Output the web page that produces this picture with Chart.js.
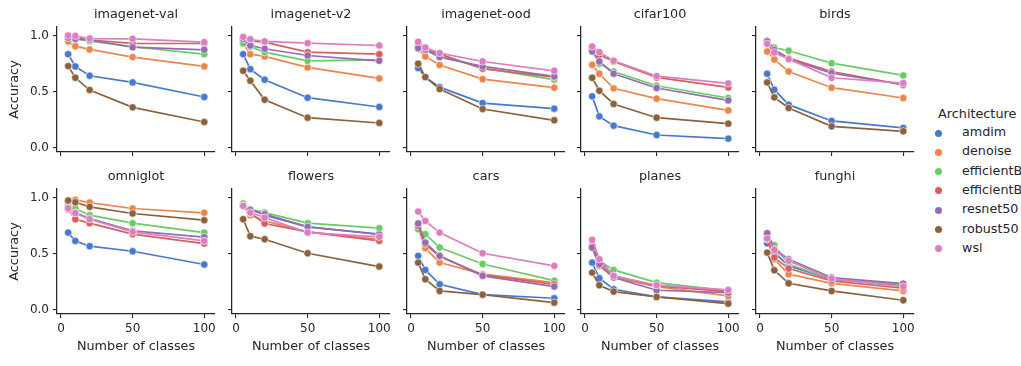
<!DOCTYPE html>
<html>
<head>
<meta charset="utf-8">
<script src="https://cdn.jsdelivr.net/npm/chart.js@4/dist/chart.umd.min.js"></script>
<style>
  body { margin: 0; background: #fff; width: 1021px; height: 366px; overflow: hidden; position: relative; font-family: 'DejaVu Sans', sans-serif; color: #262626; }
  canvas { position: absolute; }
  .lg { position: absolute; white-space: nowrap; line-height: 1; }
  .dot { position: absolute; width: 7px; height: 7px; border-radius: 50%; }
</style>
</head>
<body>
<script>
// x values and facet names
const classCounts = [5, 10, 20, 50, 100];
const panels = ['imagenet-val', 'imagenet-v2', 'imagenet-ood', 'cifar100', 'birds',
                'omniglot', 'flowers', 'cars', 'planes', 'funghi'];
const architectures = ['amdim', 'denoise', 'efficientB0', 'efficientB7', 'resnet50', 'robust50', 'wsl'];
const yTicks = [0, 0.5, 1.0];
const xTicks = [0, 50, 100];

// accuracy per panel (same order as panels), one row per panel
const amdim = [
  [0.834, 0.725, 0.642, 0.583, 0.453],
  [0.834, 0.701, 0.607, 0.447, 0.364],
  [0.710, 0.630, 0.541, 0.399, 0.349],
  [0.459, 0.281, 0.198, 0.115, 0.083],
  [0.660, 0.518, 0.385, 0.240, 0.178],
  [0.688, 0.614, 0.567, 0.522, 0.404],
  [0.926, 0.896, 0.843, 0.739, 0.674],
  [0.481, 0.356, 0.228, 0.136, 0.104],
  [0.421, 0.282, 0.184, 0.116, 0.071],
  [0.593, 0.510, 0.392, 0.273, 0.214],
];
const denoise = [
  [0.947, 0.905, 0.876, 0.808, 0.725],
  [0.930, 0.834, 0.814, 0.716, 0.618],
  [0.879, 0.814, 0.737, 0.612, 0.536],
  [0.740, 0.660, 0.530, 0.438, 0.334],
  [0.858, 0.787, 0.680, 0.536, 0.444],
  [0.960, 0.979, 0.955, 0.902, 0.864],
  [0.926, 0.843, 0.792, 0.694, 0.629],
  [0.730, 0.549, 0.421, 0.318, 0.243],
  [0.555, 0.392, 0.288, 0.208, 0.125],
  [0.629, 0.451, 0.318, 0.237, 0.169],
];
const efficientB0 = [
  [0.980, 0.970, 0.950, 0.900, 0.834],
  [0.930, 0.900, 0.852, 0.775, 0.784],
  [0.920, 0.873, 0.828, 0.710, 0.607],
  [0.873, 0.749, 0.680, 0.553, 0.444],
  [0.956, 0.893, 0.864, 0.754, 0.645],
  [0.940, 0.902, 0.843, 0.772, 0.688],
  [0.947, 0.896, 0.866, 0.772, 0.727],
  [0.718, 0.674, 0.555, 0.409, 0.261],
  [0.564, 0.436, 0.356, 0.243, 0.169],
  [0.659, 0.576, 0.407, 0.273, 0.225],
];
const efficientB7 = [
  [0.990, 0.980, 0.960, 0.930, 0.929],
  [0.970, 0.953, 0.941, 0.852, 0.834],
  [0.890, 0.873, 0.834, 0.704, 0.630],
  [0.888, 0.828, 0.769, 0.627, 0.538],
  [0.947, 0.873, 0.799, 0.680, 0.562],
  [0.896, 0.807, 0.772, 0.674, 0.590],
  [0.926, 0.861, 0.769, 0.694, 0.614],
  [0.748, 0.585, 0.475, 0.312, 0.228],
  [0.570, 0.436, 0.303, 0.214, 0.163],
  [0.629, 0.466, 0.368, 0.258, 0.193],
];
const resnet50 = [
  [0.980, 0.970, 0.960, 0.896, 0.873],
  [0.970, 0.911, 0.882, 0.822, 0.775],
  [0.888, 0.873, 0.808, 0.725, 0.636],
  [0.858, 0.769, 0.660, 0.533, 0.423],
  [0.947, 0.873, 0.790, 0.666, 0.562],
  [0.911, 0.866, 0.813, 0.703, 0.647],
  [0.926, 0.890, 0.852, 0.739, 0.671],
  [0.769, 0.599, 0.481, 0.303, 0.208],
  [0.555, 0.407, 0.288, 0.175, 0.154],
  [0.683, 0.540, 0.451, 0.288, 0.234],
];
const robust50 = [
  [0.728, 0.624, 0.515, 0.361, 0.231],
  [0.686, 0.598, 0.429, 0.269, 0.222],
  [0.749, 0.630, 0.524, 0.346, 0.246],
  [0.624, 0.509, 0.391, 0.269, 0.216],
  [0.583, 0.450, 0.355, 0.192, 0.148],
  [0.973, 0.958, 0.917, 0.858, 0.798],
  [0.807, 0.656, 0.629, 0.504, 0.386],
  [0.421, 0.273, 0.169, 0.136, 0.065],
  [0.332, 0.220, 0.163, 0.116, 0.056],
  [0.510, 0.353, 0.237, 0.169, 0.086],
];
const wsl = [
  [1.000, 0.997, 0.973, 0.970, 0.941],
  [0.988, 0.967, 0.947, 0.932, 0.911],
  [0.944, 0.893, 0.843, 0.769, 0.686],
  [0.902, 0.852, 0.775, 0.639, 0.574],
  [0.926, 0.849, 0.790, 0.624, 0.577],
  [0.905, 0.861, 0.807, 0.694, 0.614],
  [0.926, 0.866, 0.822, 0.688, 0.650],
  [0.875, 0.792, 0.688, 0.504, 0.392],
  [0.623, 0.451, 0.303, 0.220, 0.178],
  [0.635, 0.534, 0.436, 0.279, 0.208],
];
const series = [amdim, denoise, efficientB0, efficientB7, resnet50, robust50, wsl];

// seaborn "muted"
const palette = ['#4878d0', '#ee854a', '#6acc64', '#d65f5f', '#956cb4', '#8c613c', '#dc7ec0'];
const ink = '#262626';

Chart.defaults.font.family = "'DejaVu Sans', sans-serif";
Chart.defaults.color = ink;

const PAD_L = 55, PAD_T = 27, PAD_B = 50, PAD_R = 10;
const AREA_W = 158, AREA_H = 125;
const colLeft = c => 57 + c * 174.8;
const rowTop = [27, 189];

panels.forEach((name, p) => {
  const r = Math.floor(p / 5), c = p % 5;
  const cv = document.createElement('canvas');
  const w = PAD_L + AREA_W + PAD_R, h = PAD_T + AREA_H + PAD_B;
  cv.width = w; cv.height = h;
  cv.style.width = w + 'px'; cv.style.height = h + 'px';
  cv.style.left = (colLeft(c) - PAD_L) + 'px';
  cv.style.top = (rowTop[r] - PAD_T) + 'px';
  document.body.appendChild(cv);

  const datasets = architectures.map((a, i) => ({
    label: a,
    data: classCounts.map((x, k) => ({ x: x, y: series[i][p][k] })),
    borderColor: palette[i],
    backgroundColor: palette[i],
    pointBackgroundColor: palette[i],
    pointBorderColor: '#fff',
    pointBorderWidth: 0.6,
    pointRadius: 3.7,
    borderWidth: 1.7,
    order: architectures.length - i,
  }));

  new Chart(cv, {
    type: 'line',
    data: { datasets },
    options: {
      responsive: false,
      animation: false,
      events: [],
      layout: { padding: { right: PAD_R } },
      plugins: {
        legend: { display: false },
        tooltip: { enabled: false },
        title: {
          display: true, text: name, color: ink, fullSize: false, align: 'center',
          font: { size: 12.8, weight: 'normal' },
          padding: { top: 7.4, bottom: 4.2 },
        },
      },
      scales: {
        x: {
          type: 'linear', min: -2.8, max: 107.5,
          afterBuildTicks: s => { s.ticks = xTicks.map(v => ({ value: v })); },
          afterFit: s => { s.height = PAD_B; },
          ticks: { padding: 4, font: { size: 12 }, color: ink, maxRotation: 0,
                   callback: v => r === 1 ? String(v) : '' },
          grid: { drawOnChartArea: false, drawTicks: true, tickLength: 4, color: ink, lineWidth: 1.1 },
          border: { display: true, color: ink, width: 1.25 },
          title: { display: r === 1, text: 'Number of classes', color: ink,
                   font: { size: 12.8 }, padding: { top: 0, bottom: 10 } },
        },
        y: {
          type: 'linear', min: -0.036, max: 1.076,
          afterBuildTicks: s => { s.ticks = yTicks.map(v => ({ value: v })); },
          afterFit: s => { s.width = PAD_L; },
          ticks: { padding: 4, font: { size: 12 }, color: ink,
                   callback: v => c === 0 ? v.toFixed(1) : '' },
          grid: { drawOnChartArea: false, drawTicks: true, tickLength: 4, color: ink, lineWidth: 1.1 },
          border: { display: true, color: ink, width: 1.25 },
          title: { display: c === 0, text: 'Accuracy', color: ink,
                   font: { size: 12.8 }, padding: { top: 5, bottom: 0 } },
        },
      },
    },
  });
});

// legend, seaborn style, to the right of the grid
const lgTitle = document.createElement('div');
lgTitle.className = 'lg';
lgTitle.textContent = 'Architecture';
lgTitle.style.cssText = 'left:938px;top:108px;font-size:12.8px;';
document.body.appendChild(lgTitle);
architectures.forEach((a, i) => {
  const cy = 133 + i * 19.3;
  const d = document.createElement('div');
  d.className = 'dot';
  d.style.left = (938 - 3.5) + 'px';
  d.style.top = (cy - 3.5) + 'px';
  d.style.background = palette[i];
  document.body.appendChild(d);
  const t = document.createElement('div');
  t.className = 'lg';
  t.textContent = a;
  t.style.cssText = 'left:962px;font-size:12.7px;top:' + (cy - 7) + 'px;';
  document.body.appendChild(t);
});
</script>
</body>
</html>
